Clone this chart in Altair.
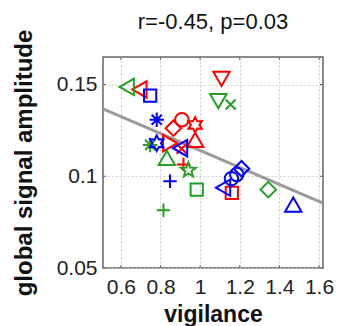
import math
import altair as alt
import pandas as pd

# ---- data ----
red_x = [1.108, 0.694, 0.908, 0.865, 0.975, 0.975, 0.849, 0.907, 0.916, 1.160]
red_y = [0.1531, 0.1473, 0.1308, 0.1262, 0.1280, 0.1198, 0.1180, 0.1150, 0.1064, 0.0909]
red_m = ["v", "<", "o", "d", "h", "^", ">", "x", "+", "s"]

green_x = [0.630, 1.092, 1.154, 0.748, 0.832, 0.941, 0.983, 1.344, 0.815]
green_y = [0.1487, 0.1409, 0.1391, 0.1171, 0.1100, 0.1033, 0.0927, 0.0927, 0.0815]
green_m = ["<", "v", "x", "*", "^", "p", "s", "d", "+"]

blue_x = [0.748, 0.781, 0.781, 0.899, 0.848, 1.116, 1.158, 1.185, 1.209, 1.470]
blue_y = [0.1440, 0.1308, 0.1180, 0.1153, 0.0973, 0.0938, 0.0987, 0.1010, 0.1041, 0.0846]
blue_m = ["s", "*", "h", "<", "+", "<", "o", "o", "d", "^"]

fit_x = [0.51, 1.62]
fit_y = [0.1367, 0.0854]

title_text = ["r=-0.45, p=0.03"]
x_ticks = [0.6, 0.8, 1.0, 1.2, 1.4, 1.6]
y_ticks = [0.05, 0.1, 0.15]

# ---- styles ----
def star(n, r_in):
    pts = []
    for i in range(2 * n):
        r = 1.0 if i % 2 == 0 else r_in
        a = -math.pi / 2 + i * math.pi / n
        pts.append(f"{r*math.cos(a):.3f},{r*math.sin(a):.3f}")
    return "M" + "L".join(pts) + "Z"

ast = "M-1,0L1,0M0,-1L0,1M-0.7,-0.7L0.7,0.7M-0.7,0.7L0.7,-0.7"
shape_map = {
    "o": ("circle", 180),
    "s": ("square", 150),
    "d": ("diamond", 240),
    "^": ("triangle-up", 270),
    "v": ("triangle-down", 270),
    "<": ("triangle-left", 270),
    ">": ("triangle-right", 270),
    "+": ("M-1,0L1,0M0,-1L0,1", 180),
    "x": ("M-0.75,-0.75L0.75,0.75M-0.75,0.75L0.75,-0.75", 180),
    "*": (ast, 210),
    "p": (star(5, 0.42), 240),
    "h": (star(6, 0.55), 240),
}
color_map = {"r": "#ff0000", "g": "#22a022", "b": "#0000ff"}

rows = []
for c, xs, ys, ms in [("r", red_x, red_y, red_m), ("g", green_x, green_y, green_m),
                      ("b", blue_x, blue_y, blue_m)]:
    for x, y, m in zip(xs, ys, ms):
        rows.append({"x": x, "y": y, "shape": shape_map[m][0],
                     "size": shape_map[m][1], "color": color_map[c]})
pts = pd.DataFrame(rows)
fit = pd.DataFrame({"x": fit_x, "y": fit_y})
ttl = pd.DataFrame({"t": title_text})
xt = pd.DataFrame({"x": x_ticks})
yt = pd.DataFrame({"y": y_ticks})

xdom = [0.51, 1.62]
ydom = [0.05, 0.165]
W, H = 220, 211

xax = alt.Axis(values=x_ticks, title="vigilance", labelExpr="format(datum.value, '~g')",
               labelFontSize=21, titleFontSize=23, titleFontWeight="bold",
               labelFont="Liberation Sans", titleFont="Liberation Sans",
               labelColor="#222", titleColor="#111", grid=True, gridDash=[2, 2],
               gridColor="#cccccc", domain=False, ticks=False, labelPadding=8,
               titlePadding=6, labelFlush=False)
yax = alt.Axis(values=y_ticks, title="global signal amplitude",
               labelExpr="format(datum.value, '~g')",
               labelFontSize=21, titleFontSize=24, titleFontWeight="bold",
               labelFont="Liberation Sans", titleFont="Liberation Sans",
               labelColor="#222", titleColor="#111", grid=True, gridDash=[2, 2],
               gridColor="#cccccc", domain=False, ticks=False, labelPadding=6,
               titlePadding=20, labelFlush=False)

xs_ = alt.Scale(domain=xdom, nice=False, zero=False)
ys_ = alt.Scale(domain=ydom, nice=False, zero=False)
X = alt.X("x:Q", scale=xs_, axis=xax)
Y = alt.Y("y:Q", scale=ys_, axis=yax)

line = alt.Chart(fit).mark_line(color="#9a9a9a", strokeWidth=3, clip=True).encode(x=X, y=Y)
points = alt.Chart(pts).mark_point(filled=False, strokeWidth=2, opacity=1, clip=True).encode(
    x=X, y=Y,
    shape=alt.Shape("shape:N", scale=None),
    size=alt.Size("size:Q", scale=None),
    color=alt.Color("color:N", scale=None),
)
tick_style = dict(color="#666666", strokeWidth=1)
xt_bot = alt.Chart(xt).mark_rule(**tick_style).encode(
    x=alt.X("x:Q", scale=xs_, axis=xax), y=alt.value(H), y2=alt.value(H - 3))
xt_top = alt.Chart(xt).mark_rule(**tick_style).encode(
    x=alt.X("x:Q", scale=xs_, axis=xax), y=alt.value(0), y2=alt.value(3))
yt_l = alt.Chart(yt).mark_rule(**tick_style).encode(
    y=alt.Y("y:Q", scale=ys_, axis=yax), x=alt.value(0), x2=alt.value(3))
yt_r = alt.Chart(yt).mark_rule(**tick_style).encode(
    y=alt.Y("y:Q", scale=ys_, axis=yax), x=alt.value(W), x2=alt.value(W - 3))
title = alt.Chart(ttl).mark_text(fontSize=22, font="Liberation Sans", color="#111",
                                 baseline="middle", align="center").encode(
    x=alt.value(W / 2), y=alt.value(-35), text="t:N")

chart = (line + xt_bot + xt_top + yt_l + yt_r + points + title).properties(
    width=W, height=H,
    autosize=alt.AutoSizeParams(type="none"),
    padding={"left": 95, "top": 49, "right": 16, "bottom": 58},
).configure_view(stroke="#666666", strokeWidth=1.5)

chart.save("out.html", embed_options={"renderer": "svg", "actions": False})
